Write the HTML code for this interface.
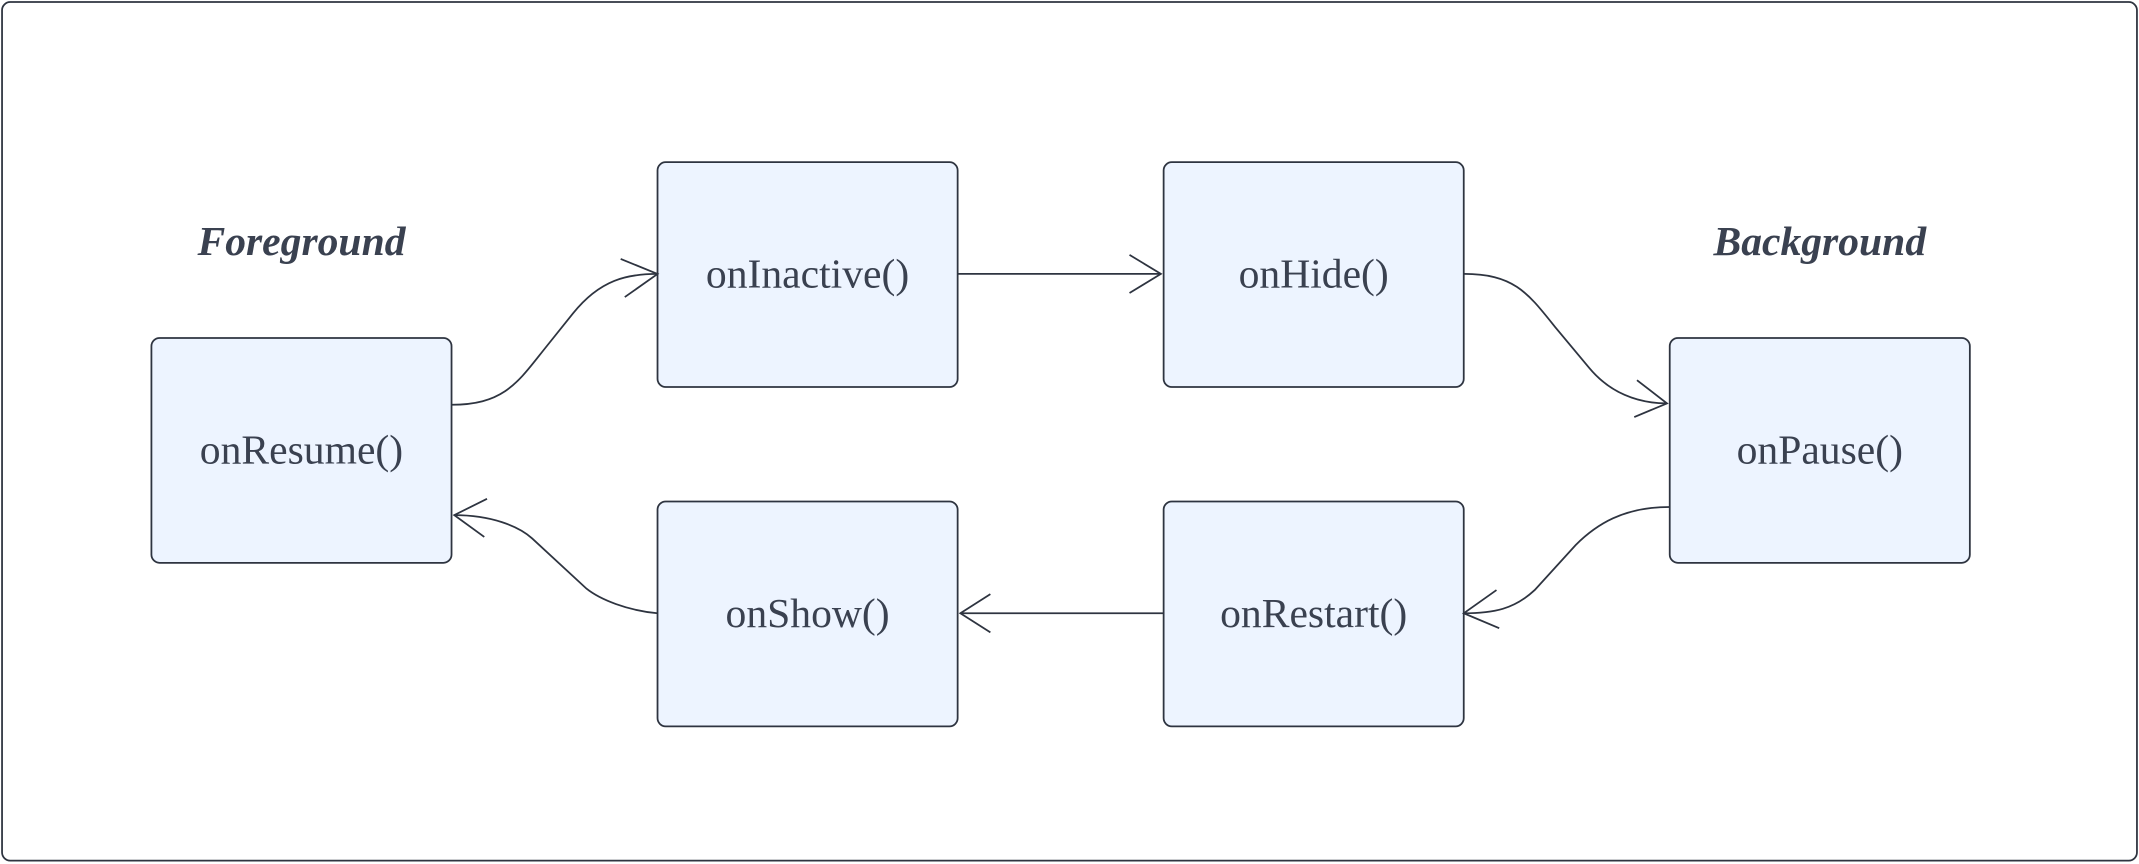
<!DOCTYPE html>
<html><head><meta charset="utf-8"><style>
html,body{margin:0;padding:0;background:#fff;}
svg{display:block;}
</style></head><body>
<svg width="2139" height="864" viewBox="0 0 1568 634" preserveAspectRatio="none" xmlns="http://www.w3.org/2000/svg">
<rect x="1.5" y="1.5" width="1565" height="630" rx="6" fill="#fff" stroke="#2e3440" stroke-width="1.3"/>
<g fill="#EDF4FF" stroke="#2e3440" stroke-width="1.3">
<rect x="111" y="248" width="220" height="165" rx="6"/>
<rect x="482" y="119" width="220" height="165" rx="6"/>
<rect x="853" y="119" width="220" height="165" rx="6"/>
<rect x="1224" y="248" width="220" height="165" rx="6"/>
<rect x="482" y="368" width="220" height="165" rx="6"/>
<rect x="853" y="368" width="220" height="165" rx="6"/>
</g>
<g font-family="Liberation Serif, serif" font-size="30.5" fill="#3a4150" text-anchor="middle">
<text x="221" y="340">onResume()</text>
<text x="592" y="211">onInactive()</text>
<text x="963" y="211">onHide()</text>
<text x="1334" y="340">onPause()</text>
<text x="592" y="460">onShow()</text>
<text x="963" y="460">onRestart()</text>
<text x="221" y="187" font-weight="bold" font-style="italic">Foreground</text>
<text x="1334" y="187" font-weight="bold" font-style="italic">Background</text>
</g>
<g fill="none" stroke="#2e3440" stroke-width="1.3">
<path d="M331,297 C370,297 380,280 400,255 L420,230 C440,205 460,201 482,201"/>
<path d="M455,190 L482,201 L458,218"/>
<path d="M702,201 L851,201"/>
<path d="M828,187 L851,201 L828,215"/>
<path d="M1073,201 C1110,201 1120,215 1140,240 L1165,270 C1180,288 1200,296 1222,296"/>
<path d="M1200,279 L1222,296 L1198,306"/>
<path d="M1224,372 C1190,372 1170,385 1155,400 L1125,433 C1110,447 1095,450 1073,450"/>
<path d="M1097,433 L1073,450 L1099,461"/>
<path d="M853,450 L704,450"/>
<path d="M726,436 L704,450 L726,464"/>
<path d="M482,450 C460,448 440,440 430,432 L390,395 C380,386 360,378 333,378"/>
<path d="M357,366 L333,378 L355,394"/>
</g>
</svg>
</body></html>
